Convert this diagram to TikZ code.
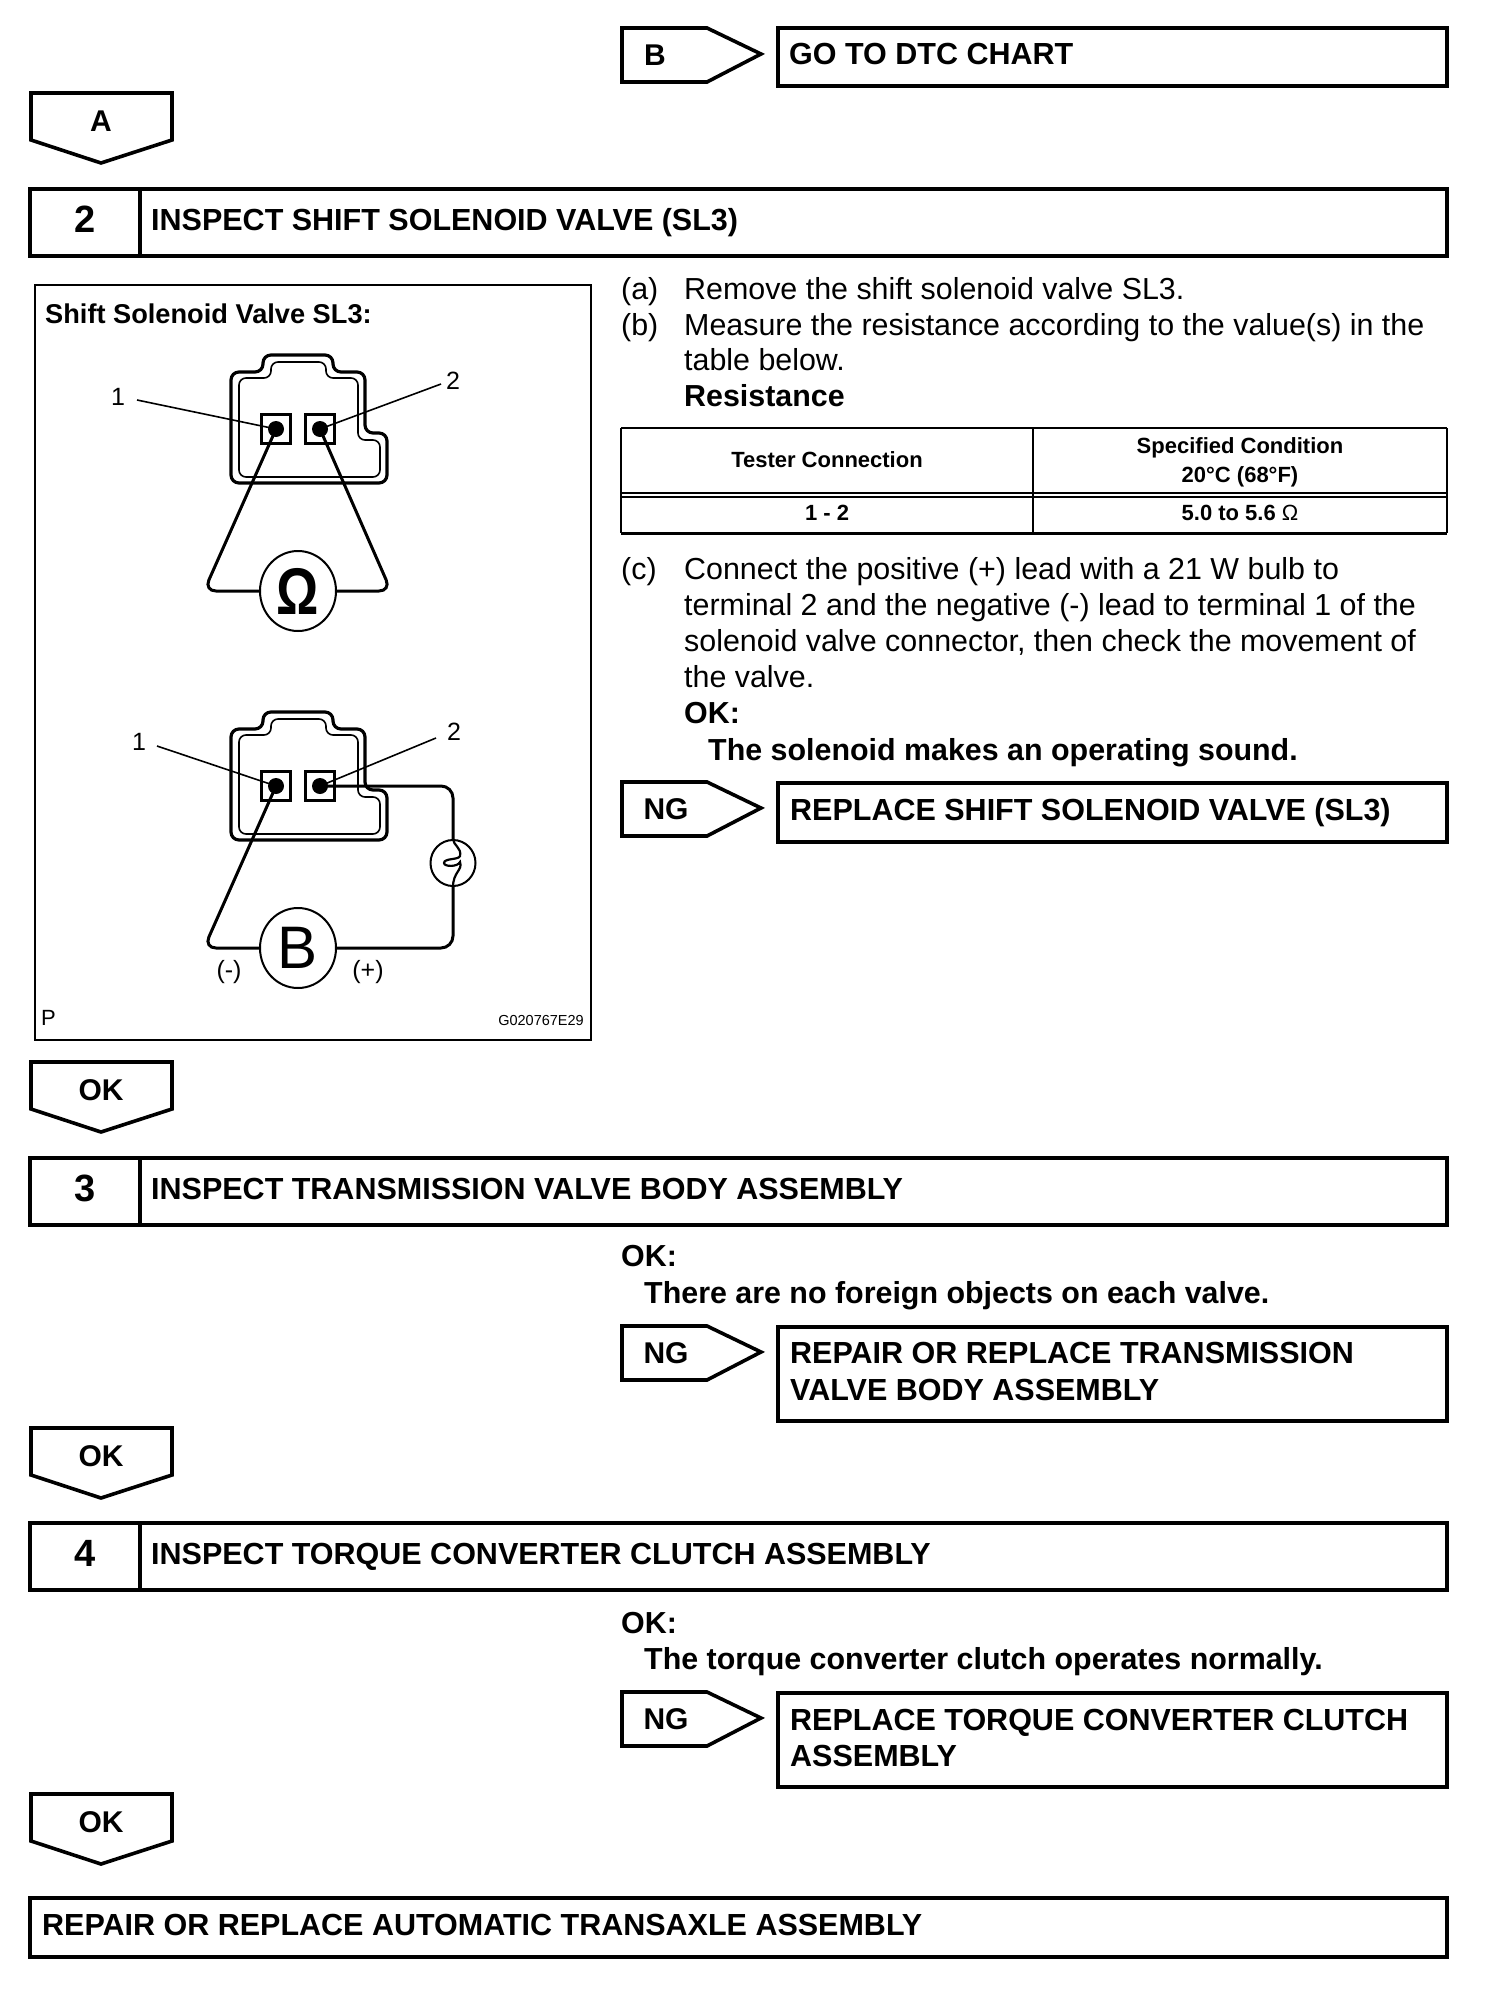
\documentclass[tikz,border=0pt]{standalone}
\usepackage{fontspec}
\setmainfont{Liberation Sans}
\usetikzlibrary{shapes.geometric}
\newcommand{\fs}[1]{\fontsize{#1}{#1}\selectfont}
\tikzset{
  x=1pt,y=-1pt,
  txt/.style={inner sep=0pt,text depth=0pt,anchor=west},
  body/.style={txt,yshift=1pt,text height=22pt,font=\fs{30.4}},
  bodyb/.style={txt,yshift=1pt,text height=22pt,font=\fs{30.4}\bfseries},
  head/.style={txt,yshift=1pt,text height=22pt,font=\fs{30.5}\bfseries},
  tagt/.style={txt,text height=21.6pt,anchor=center,font=\fs{30}\bfseries},
  numt/.style={txt,yshift=1pt,text height=27.4pt,anchor=center,font=\fs{38}\bfseries},
  tabt/.style={txt,text height=15.8pt,anchor=center,font=\fs{22}\bfseries},
  lab/.style={txt,text height=18pt,anchor=center,font=\fs{25}},
  frameline/.style={line width=4pt,line join=miter},
  tagline/.style={line width=3.6pt,line join=miter},
  figline/.style={line width=2.6pt},
  leader/.style={line width=1.6pt},
  wire/.style={line width=3pt,rounded corners=12pt},
  meter/.style={ellipse,draw,line width=2pt,fill=white,minimum width=76pt,minimum height=80pt,inner sep=0pt},
  termbox/.style={draw,line width=2.6pt,minimum width=29pt,minimum height=29pt,inner sep=0pt},
  dot/.style={circle,fill=black,minimum size=16pt,inner sep=0pt},
}
% right-pointing tag: name, top y, text x, text
\newcommand{\righttag}[4]{%
  \draw[tagline] (622,#2) -- (707,#2) -- (761,#2+26) -- (707,#2+54) -- (622,#2+54) -- cycle;
  \node[tagt] (#1) at (#3,#2+27) {#4};}
% downward tag: name, top y, text
\newcommand{\downtag}[3]{%
  \draw[tagline] (31,#2) -- (172,#2) -- (172,#2+47) -- (101,#2+70) -- (31,#2+47) -- cycle;
  \node[tagt] (#1) at (101,#2+28) {#3};}
% step bar: name, top y, number, text
\newcommand{\stepbar}[4]{%
  \draw[frameline] (30,#2) rectangle (1447,#2+67);
  \draw[frameline] (140,#2) -- (140,#2+67);
  \node[numt] (#1n) at (85,#2+31) {#3};
  \node[head] (#1t) at (151,#2+31) {#4};}
% connector housing at vertical offset
\newcommand{\housing}[1]{%
  \draw[line width=3.2pt,rounded corners=8pt] (263,372+#1) -- (263,355+#1) -- (333,355+#1) -- (333,372+#1) -- (365,372+#1) -- (365,433+#1) -- (387,433+#1) -- (387,483+#1) -- (231,483+#1) -- (231,372+#1) -- cycle;
  \draw[line width=1.6pt,rounded corners=7pt] (271,378+#1) -- (271,362+#1) -- (326,362+#1) -- (326,378+#1) -- (358,378+#1) -- (358,440+#1) -- (380,440+#1) -- (380,477+#1) -- (239,477+#1) -- (239,378+#1) -- cycle;}
\begin{document}
\begin{tikzpicture}
\useasboundingbox (0,0) rectangle (1504,2004);
\fill[white] (0,0) rectangle (1504,2004);

% top
\righttag{tagB}{28}{655}{B}
\draw[frameline] (778,28) rectangle (1447,86);
\node[head] (gotxt) at (789,55) {GO TO DTC CHART};
\downtag{tagA}{93}{A}

% step 2
\stepbar{s2}{189}{2}{INSPECT SHIFT SOLENOID VALVE (SL3)}

% figure
\draw[figline] (35,285) rectangle (591,1040);
\node[txt,text height=19.4pt,font=\fs{27.2}\bfseries] (figt) at (45,314) {Shift Solenoid Valve SL3:};

% upper connector
\housing{0}
\node[termbox] (ta) at (276,429) {};
\node[termbox] (tb) at (320,429) {};
\node[dot] (da) at (276,429) {};
\node[dot] (db) at (320,429) {};
\node[meter] (ohm) at (298,591) {\fs{66}\bfseries\scalebox{.8}[1]{Ω}};
\draw[wire] (da.center) -- (204,591) -- (ohm.west);
\draw[wire] (db.center) -- (391,591) -- (ohm.east);
\node[lab] (la) at (118,396) {1};
\node[lab] (lb) at (453,380) {2};
\coordinate (lae) at (137,400);
\coordinate (lbe) at (441,384);
\draw[leader] (lae) -- (da.center);
\draw[leader] (lbe) -- (db.center);

% lower connector
\housing{357}
\node[termbox] (tc) at (276,786) {};
\node[termbox] (td) at (320,786) {};
\node[dot] (dc) at (276,786) {};
\node[dot] (dd) at (320,786) {};
\node[meter,font=\fs{60}] (bat) at (298,948) {B};
\node[ellipse,draw,line width=2pt,minimum width=45pt,minimum height=46pt,inner sep=0pt] (lamp) at (453,863) {};
\draw[wire] (dc.center) -- (204,948) -- (bat.west);
\draw[wire] (dd.center) -- (453,786) -- (lamp.north);
\draw[wire] (lamp.south) -- (453,948) -- (bat.east);
\draw[line width=2.2pt] (lamp.north) .. controls +(0,6) and (462,848) .. (460,856) .. controls (459,860) and (444,858) .. (444,863) .. controls (444,867) and (458,867) .. (460,862) .. controls (463,870) and (453,872) .. (lamp.south);
\node[lab] (lc) at (139,741) {1};
\node[lab] (ld) at (454,731) {2};
\coordinate (lce) at (157,746);
\coordinate (lde) at (436,738);
\draw[leader] (lce) -- (dc.center);
\draw[leader] (lde) -- (dd.center);
\node[lab] (minus) at (229,969) {(-)};
\node[lab] (plus) at (368,969) {(+)};
\node[txt,text height=15.8pt,font=\fs{22}] (pp) at (41,1018) {P};
\node[txt,text height=10.4pt,anchor=east,font=\fs{14.5}] (code) at (584,1020) {G020767E29};

% right text
\node[body] (a1) at (621,289) {(a)};
\node[body] (a2) at (684,289) {Remove the shift solenoid valve SL3.};
\node[body] (b1) at (621,325) {(b)};
\node[body] (b2) at (684,325) {Measure the resistance according to the value(s) in the};
\node[body] (b3) at (684,360) {table below.};
\node[bodyb] (b4) at (684,396) {Resistance};

% table
\draw[line width=2.2pt] (621,428) -- (1447,428);
\draw[line width=2.4pt] (621,493) -- (1447,493);
\draw[line width=2.4pt] (621,497) -- (1447,497);
\draw[line width=3pt] (621,533) -- (1447,533);
\draw[line width=2.2pt] (621,428) -- (621,533);
\draw[line width=2.2pt] (1033,428) -- (1033,533);
\draw[line width=2.2pt] (1447,428) -- (1447,533);
\node[tabt] (t1) at (827,460) {Tester Connection};
\node[tabt] (t2) at (1240,446) {Specified Condition};
\node[tabt] (t3) at (1240,475) {20°C (68°F)};
\node[tabt] (t4) at (827,513) {1 - 2};
\node[tabt] (t5) at (1240,513) {5.0 to 5.6 \textmd{Ω}};

\node[body] (c1) at (621,569) {(c)};
\node[body] (c2) at (684,569) {Connect the positive (+) lead with a 21 W bulb to};
\node[body] (c3) at (684,605) {terminal 2 and the negative (-) lead to terminal 1 of the};
\node[body] (c4) at (684,641) {solenoid valve connector, then check the movement of};
\node[body] (c5) at (684,677) {the valve.};
\node[bodyb] (c6) at (684,713) {OK:};
\node[bodyb] (c7) at (708,750) {The solenoid makes an operating sound.};

\righttag{ng1}{782}{666}{NG}
\draw[frameline] (778,783) rectangle (1447,842);
\node[head] (r1) at (790,810) {REPLACE SHIFT SOLENOID VALVE (SL3)};

\downtag{ok1}{1062}{OK}

% step 3
\stepbar{s3}{1158}{3}{INSPECT TRANSMISSION VALVE BODY ASSEMBLY}
\node[bodyb] (o3) at (621,1256) {OK:};
\node[bodyb] (o3b) at (644,1293) {There are no foreign objects on each valve.};
\righttag{ng2}{1326}{666}{NG}
\draw[frameline] (778,1327) rectangle (1447,1421);
\node[head] (r2a) at (790,1353) {REPAIR OR REPLACE TRANSMISSION};
\node[head] (r2b) at (790,1390) {VALVE BODY ASSEMBLY};

\downtag{ok2}{1428}{OK}

% step 4
\stepbar{s4}{1523}{4}{INSPECT TORQUE CONVERTER CLUTCH ASSEMBLY}
\node[bodyb] (o4) at (621,1623) {OK:};
\node[bodyb] (o4b) at (644,1659) {The torque converter clutch operates normally.};
\righttag{ng3}{1692}{666}{NG}
\draw[frameline] (778,1693) rectangle (1447,1787);
\node[head] (r3a) at (790,1720) {REPLACE TORQUE CONVERTER CLUTCH};
\node[head] (r3b) at (790,1756) {ASSEMBLY};

\downtag{ok3}{1794}{OK}

\draw[frameline] (30,1898) rectangle (1447,1957);
\node[head] (fin) at (42,1925) {REPAIR OR REPLACE AUTOMATIC TRANSAXLE ASSEMBLY};
\end{tikzpicture}
\end{document}
